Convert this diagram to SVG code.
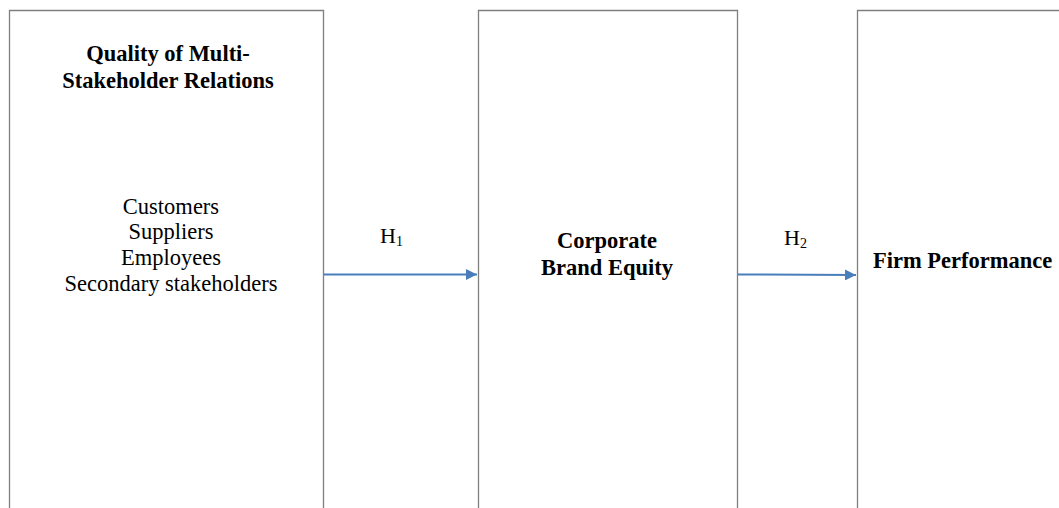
<svg xmlns="http://www.w3.org/2000/svg" width="1059" height="508" viewBox="0 0 1059 508">
<style>
.box{fill:none;stroke:#7f7f7f;stroke-width:1.3}
.t{font-family:"Liberation Serif","Times New Roman",serif;font-size:22.5px;fill:#000}
.b{font-weight:bold;font-size:22.5px}
.h{font-size:22px}
.sub{font-size:14px}
.conn{stroke:#4a7ebb;stroke-width:2;fill:none}
</style>
<defs>
<marker id="ah" viewBox="0 0 10 10" refX="10" refY="5" markerWidth="5.5" markerHeight="5.5" orient="auto" markerUnits="strokeWidth">
<path d="M0,0L10,5L0,10z" fill="#4a7ebb"/>
</marker>
</defs>
<rect width="1059" height="508" fill="#fff"/>
<g id="node-stakeholder">
<path class="box" d="M9.5,509V10.5H323.5V509"/>
<text class="t b" x="168" y="61" text-anchor="middle">Quality of Multi-</text>
<text class="t b" x="168" y="88" text-anchor="middle">Stakeholder Relations</text>
<text class="t" x="171" y="214" text-anchor="middle">Customers</text>
<text class="t" x="171" y="239" text-anchor="middle">Suppliers</text>
<text class="t" x="171" y="265" text-anchor="middle">Employees</text>
<text class="t" x="171" y="291" text-anchor="middle">Secondary stakeholders</text>
</g>
<g id="node-brand">
<path class="box" d="M478.5,509V10.5H737.5V509"/>
<text class="t b" x="607" y="248" text-anchor="middle">Corporate</text>
<text class="t b" x="607" y="275" text-anchor="middle">Brand Equity</text>
</g>
<g id="node-performance">
<path class="box" d="M857.5,509V10.5H1062"/>
<text class="t b" x="873" y="268">Firm Performance</text>
</g>
<g id="connectors">
<line class="conn" x1="324" y1="274.5" x2="477" y2="274.5" marker-end="url(#ah)"/>
<line class="conn" x1="738" y1="274.5" x2="856" y2="275" marker-end="url(#ah)"/>
<text class="t h" x="380" y="243">H<tspan class="sub" dy="3">1</tspan></text>
<text class="t h" x="784" y="245">H<tspan class="sub" dy="3">2</tspan></text>
</g>
</svg>
